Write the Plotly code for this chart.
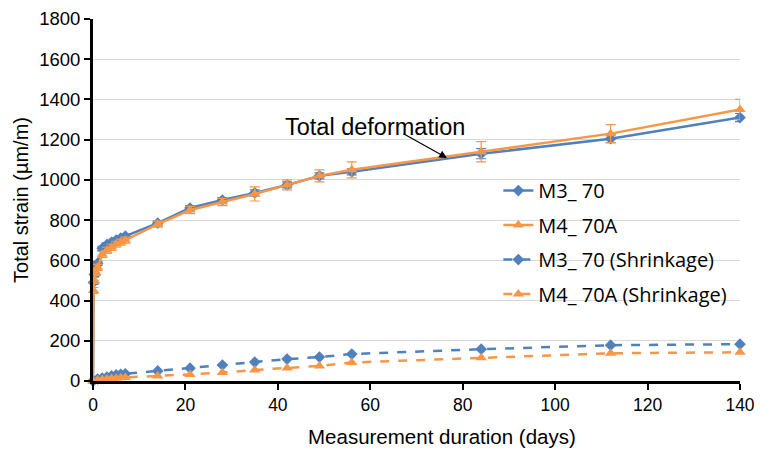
import plotly.graph_objects as go

days_total = [0, 0.1, 0.3, 0.6, 1, 2, 3, 4, 5, 6, 7, 14, 21, 28, 35, 42, 49, 56, 84, 112, 140]
m3_total = [0, 490, 530, 560, 585, 660, 678, 690, 700, 710, 720, 785, 860, 900, 935, 975, 1020, 1040, 1130, 1205, 1310]
m3_err = [0, 10, 10, 10, 10, 10, 10, 10, 10, 10, 10, 10, 12, 12, 15, 15, 15, 15, 25, 20, 20]
m4_total = [0, 450, 500, 540, 565, 630, 650, 665, 680, 690, 700, 780, 850, 890, 930, 975, 1020, 1050, 1140, 1230, 1350]
m4_err = [0, 15, 15, 15, 15, 15, 15, 15, 15, 15, 15, 15, 18, 18, 35, 25, 30, 40, 50, 45, 50]

days_shr = [0, 1, 2, 3, 4, 5, 6, 7, 14, 21, 28, 35, 42, 49, 56, 84, 112, 140]
m3_shr = [0, 10, 15, 20, 25, 30, 33, 36, 50, 64, 79, 94, 109, 119, 134, 158, 178, 183]
m4_shr = [0, 5, 8, 10, 12, 14, 16, 18, 25, 32, 42, 55, 65, 75, 92, 115, 138, 143]

BLUE = "#4F81BD"
ORANGE = "#F79646"

fig = go.Figure()
fig.add_trace(go.Scatter(
    x=days_total, y=m3_total, name="M3_ 70", mode="lines+markers",
    line=dict(color=BLUE, width=2.5),
    marker=dict(symbol="diamond", size=9, color=BLUE),
    error_y=dict(type="data", array=m3_err, color=BLUE, thickness=1.2, width=5),
    legendgroup="a", cliponaxis=False))
fig.add_trace(go.Scatter(
    x=days_total, y=m4_total, name="M4_ 70A", mode="lines+markers",
    line=dict(color=ORANGE, width=2.5),
    marker=dict(symbol="triangle-up", size=10, color=ORANGE),
    error_y=dict(type="data", array=m4_err, color=ORANGE, thickness=1.2, width=5),
    legendgroup="b", cliponaxis=False))
fig.add_trace(go.Scatter(
    x=days_shr, y=m3_shr, name="M3_ 70 (Shrinkage)", mode="lines+markers",
    line=dict(color=BLUE, width=2.5, dash="dash"),
    marker=dict(symbol="diamond", size=9, color=BLUE),
    legendgroup="c", cliponaxis=False))
fig.add_trace(go.Scatter(
    x=days_shr, y=m4_shr, name="M4_ 70A (Shrinkage)", mode="lines+markers",
    line=dict(color=ORANGE, width=2.5, dash="dash"),
    marker=dict(symbol="triangle-up", size=10, color=ORANGE),
    legendgroup="d", cliponaxis=False))

fig.add_annotation(x=76.6, y=1109, ax=-45, ay=-25, axref="pixel", ayref="pixel",
                   text="", showarrow=True, arrowhead=2, arrowsize=1.3, arrowwidth=1.2,
                   arrowcolor="black")
fig.add_annotation(x=61, y=1265, text="Total deformation", showarrow=False,
                   font=dict(size=23.5, color="black", family="Liberation Sans"))
fig.add_annotation(x=0.539, y=-0.152, xref="paper", yref="paper",
                   text="Measurement duration (days)", showarrow=False,
                   xanchor="center", yanchor="middle",
                   font=dict(size=20.5, color="black", family="Liberation Sans"))

fig.update_layout(
    width=747, height=442,
    margin=dict(l=85, r=15, t=11, b=69),
    paper_bgcolor="white", plot_bgcolor="white",
    font=dict(family="Liberation Sans", size=18, color="black"),
    showlegend=True,
    legend=dict(x=0.6265, y=0.58, xanchor="left", yanchor="top",
                font=dict(size=20, family="Open Sans", color="black"),
                tracegroupgap=5.5, bgcolor="rgba(0,0,0,0)"),
    xaxis=dict(range=[0, 140], tickvals=[0, 20, 40, 60, 80, 100, 120, 140],
               automargin=False,
               showline=True, linecolor="black", linewidth=3,
               ticks="outside", ticklen=6, tickwidth=1.5, tickcolor="black",
               showgrid=False, zeroline=False, tickfont=dict(size=17.5)),
    yaxis=dict(range=[0, 1800], dtick=200, automargin=False,
               showline=True, linecolor="black", linewidth=3,
               ticks="outside", ticklen=6, tickwidth=1.5, tickcolor="black",
               showgrid=True, gridcolor="#D9D9D9", gridwidth=1, zeroline=False,
               tickfont=dict(size=18.5),
               title=dict(text="Total strain (µm/m)", font=dict(size=20), standoff=6)),
)

fig.write_html("out.html")
